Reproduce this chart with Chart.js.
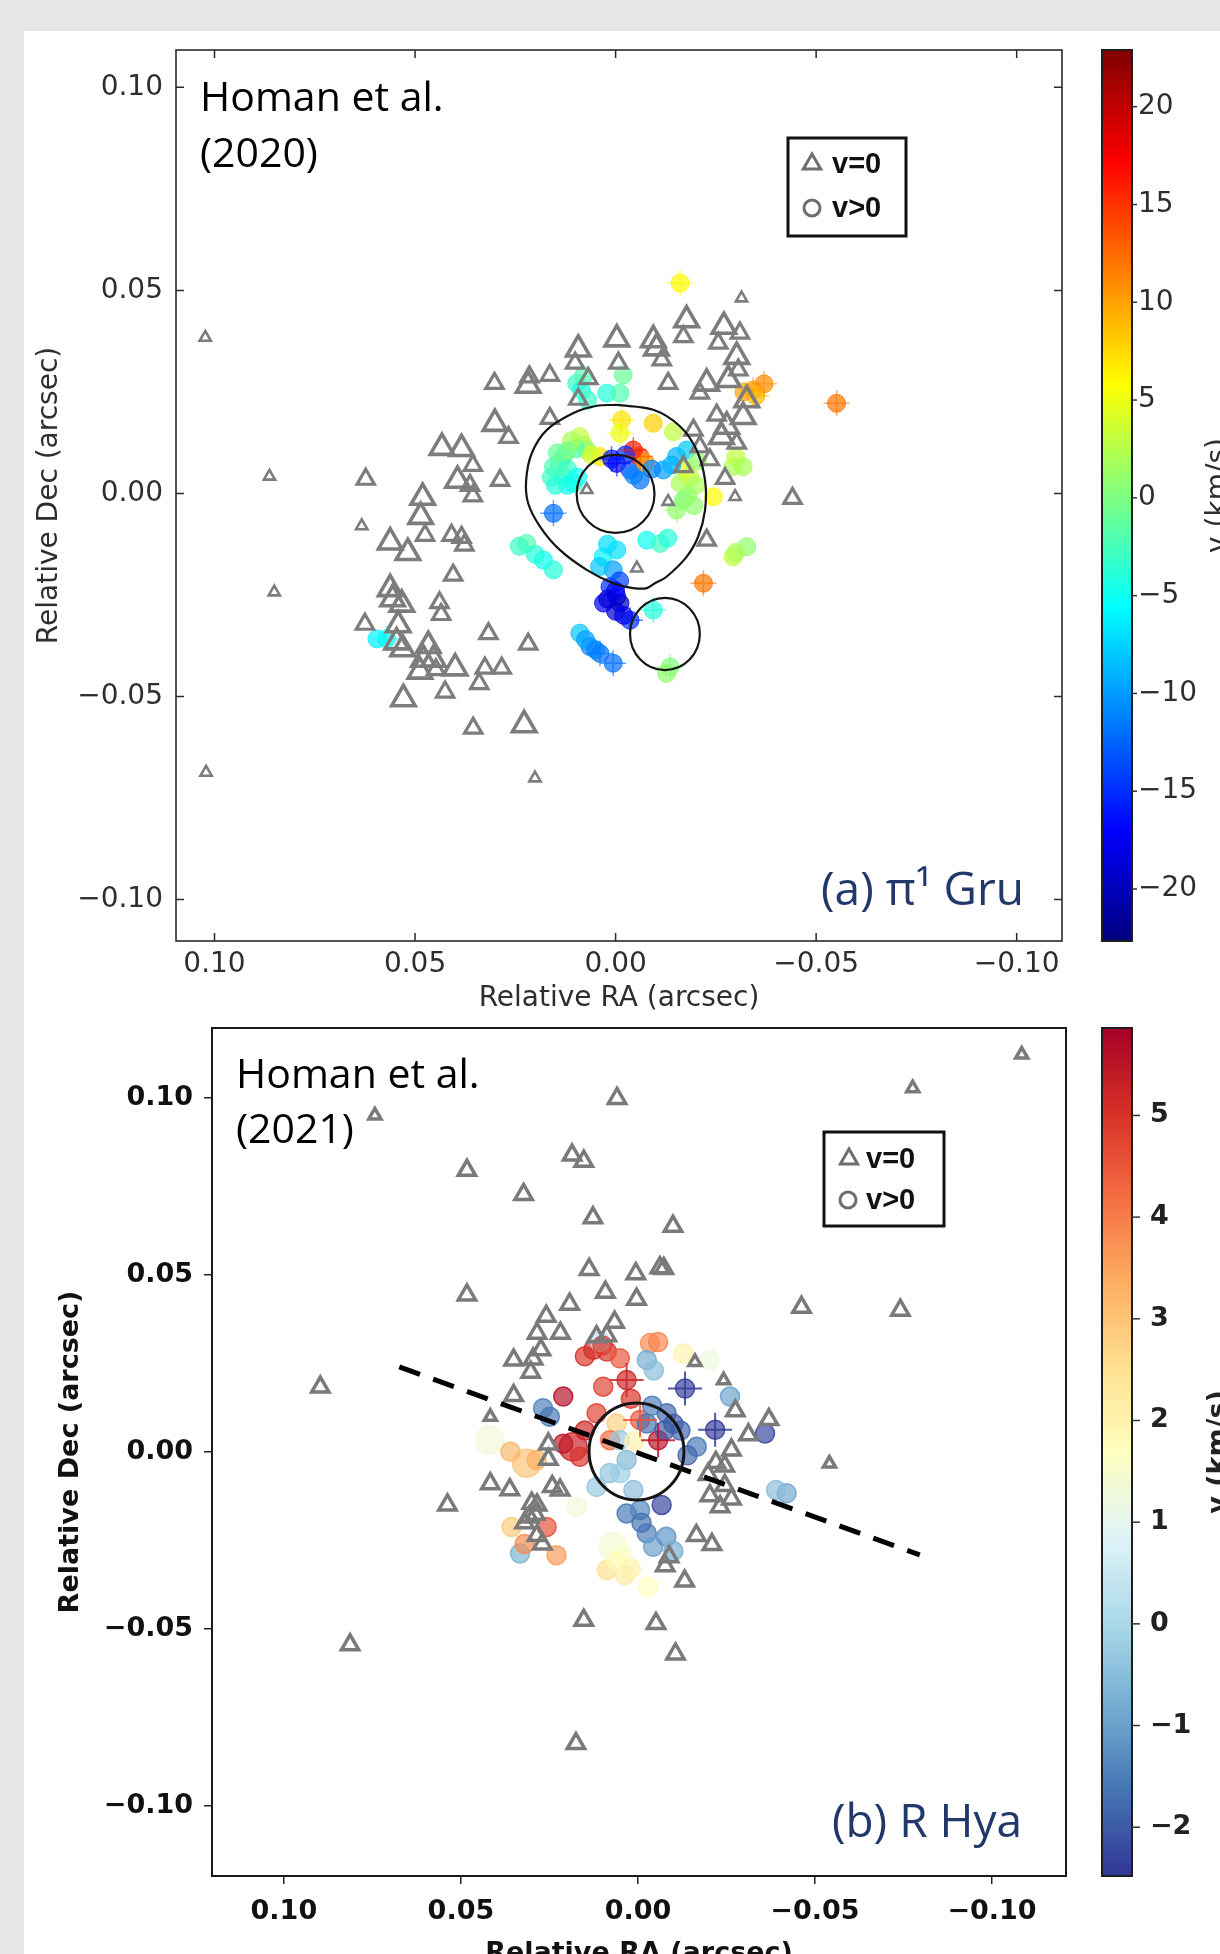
<!DOCTYPE html>
<html>
<head>
<meta charset="utf-8">
<script src="https://cdn.jsdelivr.net/npm/chart.js@4.4.0/dist/chart.umd.min.js"></script>
<style>
  html, body { margin: 0; padding: 0; width: 1220px; height: 1954px; overflow: hidden; background: #e6e6e6; }
  #panel { position: absolute; left: 24px; top: 31px; right: 0; bottom: 0; background: #fff; }
  canvas { position: absolute; left: 0; }
  #gruChart { top: 0; }
  #hyaChart { top: 1000px; }
</style>
</head>
<body>
<div id="panel"></div>
<canvas id="gruChart" width="1220" height="1016"></canvas>
<canvas id="hyaChart" width="1220" height="970"></canvas>
<script>
// axis ticks shared by both panels
const raTicks = [0.10, 0.05, 0.00, -0.05, -0.10];
const decTicks = [0.10, 0.05, 0.00, -0.05, -0.10];

// ---------- (a) pi1 Gru, Homan et al. (2020) ----------
// v=0 masers (triangles), size class 1 small .. 3 large
const gruTriRa = [0.1023, 0.0863, 0.0851, 0.1021, 0.0201, 0.0623, 0.0633, 0.0625, 0.0302, 0.0218,
  0.0215, 0.0164, 0.0093, 0.0101, -0.0003, -0.0007, 0.0068, 0.0093, 0.0164, 0.0301,
  0.0267, 0.0433, 0.0384, 0.0356, 0.0288, 0.0394, 0.0363, 0.0356, 0.0481, 0.0486,
  0.0475, 0.0562, 0.0518, 0.0409, 0.0384, 0.0377, 0.0405, 0.0562, 0.0556, 0.0533,
  0.0439, 0.0435, 0.0542, 0.0546, 0.0531, 0.0467, 0.0479, 0.0454, 0.0488, 0.0448,
  0.0400, 0.0326, 0.0284, 0.0340, 0.0317, 0.0218, 0.0529, 0.0425, 0.0355, 0.0228,
  -0.0094, -0.0102, -0.0115, -0.0177, -0.0169, -0.0270, -0.0256, -0.0310, -0.0314, -0.0302,
  -0.0306, -0.0281, -0.0227, -0.0210, -0.0131, -0.0252, -0.0318, -0.0277, -0.0264, -0.0302,
  -0.0194, -0.0210, -0.0235, -0.0273, -0.0298, -0.0441, -0.0227, -0.0131, -0.0053, -0.0327,
  -0.0169, 0.0072];
const gruTriDec = [0.0384, 0.0042, -0.0243, -0.0687, -0.0701, 0.0035, -0.0080, -0.0322, 0.0271, 0.0266,
  0.0287, 0.0291, 0.0355, 0.0321, 0.0380, 0.0321, 0.0283, 0.0232, 0.0185, 0.0172,
  0.0138, 0.0113, 0.0110, 0.0069, 0.0032, 0.0032, 0.0020, -0.0006, -0.0010, -0.0057,
  -0.0103, -0.0120, -0.0146, -0.0103, -0.0108, -0.0127, -0.0201, -0.0235, -0.0260, -0.0273,
  -0.0269, -0.0298, -0.0324, -0.0366, -0.0383, -0.0375, -0.0409, -0.0409, -0.0438, -0.0434,
  -0.0430, -0.0430, -0.0430, -0.0468, -0.0345, -0.0371, -0.0506, -0.0489, -0.0578, -0.0570,
  0.0378, 0.0358, 0.0329, 0.0427, 0.0386, 0.0411, 0.0370, 0.0395, 0.0481, 0.0337,
  0.0304, 0.0280, 0.0271, 0.0247, 0.0271, 0.0193, 0.0189, 0.0165, 0.0140, 0.0124,
  0.0156, 0.0115, 0.0083, 0.0037, -0.0008, -0.0012, -0.0115, -0.0020, -0.0184, 0.0230,
  0.0066, 0.0009];
const gruTriSize = [1, 1, 1, 1, 1, 2, 1, 2, 2, 3,
  2, 2, 3, 2, 3, 2, 2, 2, 2, 3,
  2, 3, 3, 2, 2, 3, 2, 2, 3, 3,
  2, 3, 3, 2, 2, 2, 2, 3, 3, 3,
  2, 2, 3, 3, 3, 3, 3, 3, 3, 2,
  3, 2, 2, 2, 2, 2, 3, 2, 2, 3,
  3, 3, 2, 3, 2, 3, 2, 2, 1, 3,
  2, 3, 3, 2, 2, 2, 3, 3, 3, 2,
  2, 2, 2, 2, 1, 2, 2, 1, 1, 3,
  2, 1];

// v>0 masers, velocity in km/s, err = drawn with error bars
const gruRa = [-0.0161, 0.0097, 0.0085, 0.0022, -0.0011, -0.0019, -0.0015, -0.0011, -0.0094, -0.0144,
  0.0089, 0.0080, 0.0130, 0.0140, 0.0130, 0.0105, 0.0155, 0.0120, 0.0072, 0.0039,
  -0.0003, 0.0010, -0.0036, -0.0061, -0.0045, -0.0061, -0.0044, -0.0075, -0.0119, -0.0152,
  -0.0177, -0.0161, -0.0169, -0.0185, -0.0152, -0.0244, -0.0293, -0.0300, 0.0155, 0.0222,
  0.0180, 0.0155, 0.0031, -0.0003, 0.0006, -0.0078, -0.0111, 0.0014, -0.0003, -0.0011,
  0.0000, -0.0036, -0.0094, 0.0089, 0.0064, 0.0039, 0.0006, -0.0136, -0.0293, -0.0327,
  -0.0219, -0.0343, -0.0370, -0.0551, 0.0571, 0.0595, -0.0318, -0.0127, 0.0120, 0.0100,
  -0.0195, -0.0175, 0.0030, 0.0110, 0.0120, 0.0145, 0.0160, 0.0150, 0.0095, 0.0060,
  -0.0025, -0.0090, -0.0140, -0.0205, -0.0200, -0.0180, -0.0130, 0.0020, 0.0040, -0.0010,
  0.0000, 0.0020, -0.0020, 0.0200, 0.0240, 0.0075, 0.0050, -0.0300, 0.0080, 0.0070,
  -0.0350, -0.0320];
const gruDec = [0.0518, 0.0271, 0.0255, 0.0247, 0.0247, 0.0292, 0.0181, 0.0148, 0.0173, 0.0152,
  0.0140, 0.0120, 0.0091, 0.0075, 0.0041, 0.0025, 0.0066, 0.0060, 0.0107, 0.0091,
  0.0074, 0.0085, 0.0058, 0.0033, 0.0045, 0.0091, 0.0107, 0.0075, 0.0058, 0.0091,
  0.0107, 0.0025, -0.0016, 0.0040, -0.0041, -0.0008, 0.0066, 0.0090, -0.0049, -0.0123,
  -0.0164, -0.0188, -0.0156, -0.0139, -0.0188, -0.0115, -0.0123, -0.0230, -0.0254, -0.0270,
  -0.0290, -0.0312, -0.0287, -0.0344, -0.0377, -0.0394, -0.0418, -0.0427, -0.0156, -0.0131,
  -0.0221, 0.0255, 0.0270, 0.0222, -0.0358, -0.0358, 0.0066, -0.0443, 0.0020, 0.0110,
  -0.0030, 0.0060, -0.0270, 0.0130, 0.0105, 0.0100, 0.0040, 0.0020, 0.0040, 0.0095,
  0.0095, 0.0060, 0.0070, 0.0080, 0.0020, -0.0005, -0.0110, -0.0125, -0.0180, -0.0215,
  -0.0240, -0.0260, -0.0300, -0.0150, -0.0130, -0.0360, -0.0385, -0.0145, 0.0290, 0.0230,
  0.0240, 0.0250];
const gruVel = [6, -3, -4, -4, -2, -1, 7, 5, 8, 3,
  3, 2, -1, -2, -3, -4, -2, -3, 1, 7,
  -18, -16, -14, -12, -11, 14, 16, 10, -10, -9,
  -8, 2, 0, 3, 1, 6, 2, 3, -12, -2,
  -5, -4, -6, -7, -10, -5, -3, -15, -18, -20,
  -19, -15, -4, -8, -11, -12, -12, 0, 3, 1,
  12, 10, 11, 12, -5, -6, 2, 1, -5, -2,
  1, 4, -17, 2, 0, -1, -3, -4, -5, 4,
  -15, -11, -9, 1, 2, 1, -4, -7, -8, -14,
  -17, -19, -18, -4, -3, -10, -11, 2, -2, -3,
  9, 10];
const gruErr = [1, 0, 0, 0, 0, 0, 1, 1, 0, 0,
  0, 0, 0, 0, 0, 0, 0, 0, 0, 0,
  1, 1, 0, 0, 0, 1, 1, 0, 0, 0,
  0, 0, 0, 0, 1, 0, 0, 0, 1, 0,
  0, 0, 0, 0, 0, 0, 0, 0, 0, 0,
  0, 1, 1, 0, 0, 1, 1, 1, 0, 0,
  1, 1, 1, 1, 1, 0, 0, 0, 0, 0,
  0, 0, 0, 0, 0, 0, 0, 0, 0, 0,
  0, 0, 0, 0, 0, 0, 0, 0, 0, 0,
  0, 0, 0, 0, 0, 0, 0, 0, 0, 0,
  1, 0];

// outer contour (the "Q" shaped ring)
const gruContourRa = [-0.0003, -0.0094, -0.0161, -0.0202, -0.0223, -0.0223, -0.0206, -0.0177, -0.0127, -0.0098,
  -0.0078, -0.0044, 0.0006, 0.0072, 0.0139, 0.0188, 0.0218, 0.0223, 0.0209, 0.0172, 0.0105, 0.0047, -0.0003];
const gruContourDec = [0.0218, 0.0206, 0.0165, 0.0107, 0.0033, -0.0041, -0.0106, -0.0156, -0.0205, -0.0221,
  -0.0233, -0.0233, -0.0221, -0.0188, -0.0139, -0.0082, -0.0024, 0.0033, 0.0099, 0.0156, 0.0198, 0.0216, 0.0218];
// rings: [ra, dec, radius ra, radius dec]
const gruRings = [[0.0000, -0.0001, 0.0097, 0.0096], [-0.0123, -0.0346, 0.0087, 0.0089]];
const gruVelTicks = [20, 15, 10, 5, 0, -5, -10, -15, -20];
const gruVelRange = [-22.66, 22.9];

// ---------- (b) R Hya, Homan et al. (2021) ----------
const hyaTriRa = [-0.1084, -0.0776, 0.0059, 0.0743, 0.0483, 0.0186, 0.0153, 0.0323, 0.0127, -0.0099,
  0.0138, 0.0006, -0.0062, -0.0073, 0.0483, 0.0092, 0.0004, 0.0193, 0.0259, -0.0462,
  -0.0741, 0.0066, 0.0285, 0.0219, 0.0274, 0.0351, 0.0296, 0.0303, 0.0897, 0.0417,
  0.0351, 0.0088, -0.0161, -0.0242, -0.0275, -0.0370, -0.0312, -0.0264, -0.0220, -0.0245,
  -0.0198, -0.0541, 0.0253, 0.0253, 0.0417, 0.0362, 0.0538, 0.0285, 0.0307, 0.0285,
  0.0242, -0.0203, -0.0264, -0.0245, -0.0165, -0.0209, -0.0088, -0.0077, -0.0132, 0.0153,
  -0.0051, -0.0106, 0.0813, 0.0175, 0.0117, -0.0232, 0.0300, 0.0290, 0.0220, 0.0320,
  0.0270];
const hyaTriDec = [0.1122, 0.1027, 0.0998, 0.0950, 0.0795, 0.0838, 0.0821, 0.0727, 0.0661, 0.0637,
  0.0515, 0.0503, 0.0520, 0.0518, 0.0443, 0.0451, 0.0431, 0.0417, 0.0383, 0.0408,
  0.0400, 0.0366, 0.0335, 0.0335, 0.0288, 0.0259, 0.0262, 0.0225, 0.0183, 0.0099,
  0.0159, 0.0328, 0.0254, 0.0202, 0.0116, 0.0091, 0.0048, 0.0005, -0.0030, -0.0040,
  -0.0064, -0.0033, -0.0021, 0.0022, -0.0090, -0.0107, -0.0150, -0.0150, -0.0184, -0.0236,
  -0.0098, -0.0124, -0.0133, -0.0095, -0.0236, -0.0262, -0.0296, -0.0322, -0.0365, -0.0476,
  -0.0485, -0.0571, -0.0545, -0.0824, 0.0325, -0.0155, -0.0145, -0.0176, -0.0108, -0.0200,
  -0.0260];
const hyaTriSize = [1, 1, 2, 1, 2, 2, 2, 2, 2, 2,
  2, 2, 2, 2, 2, 2, 2, 2, 2, 2,
  2, 2, 2, 2, 2, 2, 2, 2, 2, 1,
  2, 2, 1, 1, 2, 2, 2, 2, 2, 2,
  2, 1, 2, 2, 2, 2, 2, 2, 2, 2,
  2, 2, 2, 2, 2, 2, 2, 2, 2, 2,
  2, 2, 2, 2, 2, 2, 2, 2, 2, 2,
  2];

const hyaRa = [0.0126, 0.0088, 0.0051, -0.0034, -0.0057, -0.0025, -0.0128, -0.0203, 0.0107, 0.0032,
  0.0098, 0.0211, -0.0133, -0.0260, 0.0268, 0.0249, 0.0117, 0.0060, -0.0006, -0.0081,
  -0.0100, -0.0218, -0.0359, -0.0057, -0.0166, 0.0183, 0.0164, 0.0211, 0.0079, 0.0418,
  0.0314, 0.0286, 0.0032, 0.0117, 0.0173, 0.0357, 0.0258, 0.0333, 0.0230, 0.0032,
  -0.0006, -0.0067, -0.0025, -0.0043, 0.0070, 0.0045, 0.0088, 0.0037, -0.0029, -0.0420,
  -0.0390, 0.0013, 0.0051, -0.0025, -0.0075, 0.0080, 0.0150, 0.0100, -0.0045, 0.0020,
  -0.0040, -0.0120, -0.0140, 0.0010, 0.0150, 0.0050, -0.0010, -0.0080, -0.0100, 0.0060,
  0.0020, 0.0320, 0.0360];
const hyaDec = [0.0288, 0.0283, 0.0264, 0.0307, 0.0310, 0.0259, 0.0278, 0.0259, 0.0311, 0.0203,
  0.0184, 0.0156, 0.0179, 0.0156, 0.0123, 0.0099, 0.0109, 0.0080, 0.0090, 0.0109,
  0.0079, 0.0062, 0.0052, 0.0033, 0.0014, 0.0014, -0.0014, 0.0023, 0.0033, 0.0033,
  -0.0032, -0.0023, -0.0023, -0.0099, -0.0155, -0.0212, -0.0212, -0.0287, -0.0292, -0.0174,
  -0.0164, -0.0150, -0.0230, -0.0268, -0.0268, -0.0290, -0.0334, -0.0348, -0.0381, -0.0117,
  -0.0108, -0.0108, 0.0033, 0.0080, 0.0060, -0.0060, 0.0270, 0.0300, 0.0230, 0.0150,
  0.0130, 0.0060, -0.0010, 0.0030, 0.0060, -0.0060, -0.0200, -0.0240, -0.0280, -0.0310,
  -0.0330, -0.0260, 0.0000];
const hyaVel = [5.2, 5.0, 4.5, 3.8, 3.9, -0.8, 2.0, 1.2, 0.2, 5.2,
  4.8, 5.6, -2.4, -1.0, -1.5, -1.6, 4.8, 2.8, 4.5, -1.8,
  -2.0, -2.4, -2.3, 5.5, -1.6, 5.3, 5.0, 5.4, 4.2, 1.3,
  3.0, 3.3, -0.6, -0.3, 1.3, 2.9, 4.6, -0.7, 3.6, -1.6,
  -1.4, -2.3, -1.5, -1.0, 1.4, 1.6, 2.5, 2.2, 1.7, -0.9,
  -0.5, -0.5, -0.3, -1.7, -2.0, -0.4, 5.0, 4.8, -0.5, 5.0,
  -1.5, -1.9, -1.8, 2.0, 5.2, -0.2, -1.7, -1.2, -0.8, 1.8,
  2.0, 3.8, 3.2];
const hyaBig = [0, 0, 0, 0, 0, 0, 0, 0, 0, 0,
  0, 0, 0, 0, 0, 0, 0, 0, 0, 0,
  0, 0, 0, 0, 0, 1, 0, 0, 0, 1,
  1, 0, 0, 0, 0, 0, 0, 0, 0, 0,
  0, 0, 0, 0, 1, 0, 0, 0, 0, 0,
  0, 0, 0, 0, 0, 0, 0, 0, 0, 0,
  0, 0, 0, 0, 0, 0, 0, 0, 0, 0,
  0, 0, 0];
const hyaErr = [0, 0, 0, 0, 0, 0, 0, 0, 0, 1,
  0, 0, 1, 0, 0, 0, 0, 0, 1, 0,
  0, 1, 0, 1, 0, 0, 0, 0, 0, 0,
  0, 0, 0, 0, 0, 0, 0, 0, 0, 0,
  0, 0, 0, 0, 0, 0, 0, 0, 0, 0,
  0, 0, 0, 0, 0, 0, 0, 0, 0, 0,
  0, 0, 0, 0, 0, 0, 0, 0, 0, 0,
  0, 0, 0];

// dashed axis line
const hyaAxisRa = [0.0674, -0.0796];
const hyaAxisDec = [0.0240, -0.0291];
const hyaRings = [[0.0004, 0.0001, 0.0134, 0.0137]];
const hyaVelTicks = [5, 4, 3, 2, 1, 0, -1, -2];
const hyaVelRange = [-2.48, 5.86];

// ---------- helpers ----------
Chart.defaults.font.family = 'DejaVu Sans';

function clamp01(v) { return Math.max(0, Math.min(1, v)); }
function jet(t) {
  t = clamp01(t);
  return [1.5 - Math.abs(4 * t - 3), 1.5 - Math.abs(4 * t - 2), 1.5 - Math.abs(4 * t - 1)]
    .map(c => Math.round(clamp01(c) * 255));
}
const rdylbuStops = ['#313695', '#4575b4', '#74add1', '#abd9e9', '#e0f3f8', '#ffffbf',
  '#fee090', '#fdae61', '#f46d43', '#d73027', '#a50026'];
function hexRgb(h) { return [1, 3, 5].map(i => parseInt(h.slice(i, i + 2), 16)); }
function rdylbuR(t) {
  t = clamp01(t);
  const p = t * 10, i = Math.min(9, Math.floor(p)), f = p - i;
  const a = hexRgb(rdylbuStops[i]), b = hexRgb(rdylbuStops[i + 1]);
  return a.map((c, k) => Math.round(c + (b[k] - c) * f));
}
function rgba(c, a) { return 'rgba(' + c[0] + ',' + c[1] + ',' + c[2] + ',' + a + ')'; }
function velColour(cmap, range, alpha) {
  return v => rgba(cmap((v - range[0]) / (range[1] - range[0])), alpha);
}
function pts(ra, dec) { return ra.map((r, i) => ({ x: r, y: dec[i] })); }
function pick(arr, flags) { return arr.filter((_, i) => flags[i]); }
const fmtTick = v => (v < -1e-9 ? '\u2212' : '') + Math.abs(v).toFixed(2);
const fmtVel = v => (v < 0 ? '\u2212' : '') + Math.abs(v);

const decorPlugin = {
  id: 'decor',
  afterDatasetsDraw(chart, args, o) {
    const ctx = chart.ctx, a = chart.chartArea;
    const xs = chart.scales.x, ys = chart.scales.y;
    ctx.save();
    ctx.strokeStyle = '#151515';
    ctx.lineWidth = o.ringWidth;
    o.rings.forEach(r => {
      const cx = xs.getPixelForValue(r[0]), cy = ys.getPixelForValue(r[1]);
      const rx = Math.abs(xs.getPixelForValue(r[0] + r[2]) - cx);
      const ry = Math.abs(ys.getPixelForValue(r[1] + r[3]) - cy);
      ctx.beginPath();
      ctx.ellipse(cx, cy, rx, ry, 0, 0, Math.PI * 2);
      ctx.stroke();
    });
    ctx.strokeStyle = o.frameColor;
    ctx.lineWidth = o.frameWidth;
    ctx.strokeRect(a.left, a.top, a.right - a.left, a.bottom - a.top);
    if (o.innerTicks) {
      const n = o.innerTicks;
      ctx.lineWidth = 1.5;
      ctx.beginPath();
      xs.ticks.forEach(t => {
        const p = xs.getPixelForValue(t.value);
        ctx.moveTo(p, a.top); ctx.lineTo(p, a.top + n);
        ctx.moveTo(p, a.bottom); ctx.lineTo(p, a.bottom - n);
      });
      ys.ticks.forEach(t => {
        const p = ys.getPixelForValue(t.value);
        ctx.moveTo(a.left, p); ctx.lineTo(a.left + n, p);
        ctx.moveTo(a.right, p); ctx.lineTo(a.right - n, p);
      });
      ctx.stroke();
    }
    ctx.restore();
  },
  afterDraw(chart, args, o) {
    const ctx = chart.ctx, a = chart.chartArea;
    const cb = o.colorbar;
    const top = a.top, bot = a.bottom;
    ctx.save();
    // colour bar
    const grad = ctx.createLinearGradient(0, bot, 0, top);
    for (let i = 0; i <= 64; i++) grad.addColorStop(i / 64, rgba(cb.cmap(i / 64), 1));
    ctx.fillStyle = grad;
    ctx.fillRect(cb.left, top, cb.width, bot - top);
    ctx.strokeStyle = '#1e1e1e';
    ctx.lineWidth = 2;
    ctx.strokeRect(cb.left, top, cb.width, bot - top);
    const vy = v => bot - (v - cb.range[0]) / (cb.range[1] - cb.range[0]) * (bot - top);
    ctx.font = cb.font;
    ctx.fillStyle = cb.color;
    ctx.strokeStyle = '#333';
    ctx.lineWidth = 1.5;
    ctx.textAlign = 'left';
    ctx.textBaseline = 'middle';
    cb.ticks.forEach(v => {
      const y = vy(v);
      ctx.beginPath();
      ctx.moveTo(cb.left + cb.width, y);
      ctx.lineTo(cb.left + cb.width + cb.tickLen, y);
      ctx.stroke();
      ctx.fillText(fmtVel(v), cb.labelX, y);
    });
    ctx.save();
    ctx.translate(cb.titleX, (top + bot) / 2);
    ctx.rotate(-Math.PI / 2);
    ctx.textAlign = 'center';
    ctx.textBaseline = 'alphabetic';
    ctx.fillText('v (km/s)', 0, 0);
    ctx.restore();

    // marker legend
    const lg = o.legend;
    ctx.fillStyle = '#fff';
    ctx.fillRect(lg.x, lg.y, lg.w, lg.h);
    ctx.strokeStyle = '#111';
    ctx.lineWidth = 3;
    ctx.strokeRect(lg.x, lg.y, lg.w, lg.h);
    lg.rows.forEach(row => {
      ctx.strokeStyle = '#6e6e6e';
      ctx.lineWidth = 3;
      ctx.beginPath();
      if (row.shape === 'triangle') {
        const r = 10;
        ctx.moveTo(row.sx, row.y - r);
        ctx.lineTo(row.sx + r * 0.866, row.y + r * 0.5);
        ctx.lineTo(row.sx - r * 0.866, row.y + r * 0.5);
        ctx.closePath();
      } else {
        ctx.arc(row.sx, row.y, 8, 0, Math.PI * 2);
      }
      ctx.stroke();
      ctx.fillStyle = '#111';
      ctx.font = lg.font;
      ctx.textAlign = 'left';
      ctx.textBaseline = 'middle';
      ctx.fillText(row.text, lg.textX, row.y + 1);
    });

    // annotations
    o.notes.forEach(n => {
      ctx.font = n.font;
      ctx.fillStyle = n.color;
      ctx.textAlign = n.align;
      ctx.textBaseline = 'alphabetic';
      ctx.fillText(n.text, n.x, n.y);
    });
    ctx.restore();
  }
};

function makeScales(s) {
  return {
    x: {
      type: 'linear', reverse: true, min: s.xRange[0], max: s.xRange[1],
      afterBuildTicks: sc => { sc.ticks = raTicks.map(v => ({ value: v })); },
      afterFit: sc => { sc.height = s.xHeight; },
      grid: s.grid,
      border: { display: false },
      ticks: { callback: fmtTick, font: s.tickFont, color: s.textColor, padding: s.xPad, maxRotation: 0, autoSkip: false },
      title: { display: true, text: 'Relative RA (arcsec)', font: s.tickFont, color: s.textColor, padding: { top: 0, bottom: s.xTitlePad } }
    },
    y: {
      type: 'linear', min: s.yRange[0], max: s.yRange[1],
      afterBuildTicks: sc => { sc.ticks = decTicks.map(v => ({ value: v })); },
      afterFit: sc => { sc.width = s.yWidth; },
      grid: s.grid,
      border: { display: false },
      ticks: { callback: fmtTick, font: s.tickFont, color: s.textColor, padding: s.yPad, autoSkip: false },
      title: { display: true, text: 'Relative Dec (arcsec)', font: s.tickFont, color: s.textColor, padding: { top: s.yTitlePad, bottom: 0 } }
    }
  };
}

// ---------- panel (a) ----------
const jetCol = a => velColour(jet, gruVelRange, a);
const triRadiusGru = [0, 6.5, 10, 13.5];
const triWidthGru = [0, 2.6, 3.2, 3.6];

new Chart(document.getElementById('gruChart'), {
  type: 'scatter',
  data: {
    datasets: [
      {
        label: 'contour', data: pts(gruContourRa, gruContourDec), showLine: true, tension: 0.35,
        borderColor: '#151515', borderWidth: 2.2, pointRadius: 0, fill: false
      },
      {
        label: 'v=0', data: pts(gruTriRa, gruTriDec), pointStyle: 'triangle',
        pointRadius: gruTriSize.map(s => triRadiusGru[s]),
        pointBorderWidth: gruTriSize.map(s => triWidthGru[s]),
        pointBorderColor: '#7d7d7d', pointBackgroundColor: 'rgba(255,255,255,0)'
      },
      {
        label: 'errors', data: pts(pick(gruRa, gruErr), pick(gruDec, gruErr)), pointStyle: 'cross',
        pointRadius: 13, pointBorderWidth: 1.5,
        pointBorderColor: pick(gruVel, gruErr).map(jetCol(0.6))
      },
      {
        label: 'v>0', data: pts(gruRa, gruDec), pointRadius: 9,
        pointBackgroundColor: gruVel.map(jetCol(0.7)),
        pointBorderColor: gruVel.map(jetCol(0.8)), pointBorderWidth: 1
      }
    ]
  },
  options: {
    responsive: false, animation: false, events: [],
    layout: { padding: { left: 0, top: 50, right: 158, bottom: 0 } },
    scales: makeScales({
      xRange: [-0.1113, 0.1096], yRange: [-0.1102, 0.1092],
      xHeight: 75, yWidth: 176, xPad: 7, yPad: 13, xTitlePad: 0, yTitlePad: 33,
      grid: { display: false, drawTicks: false },
      tickFont: { family: 'DejaVu Sans', size: 28, weight: 'normal' }, textColor: '#2e2e2e'
    }),
    plugins: {
      legend: { display: false },
      tooltip: { enabled: false },
      decor: {
        rings: gruRings, ringWidth: 2.2, frameColor: '#2a2a2a', frameWidth: 1.6, innerTicks: 8,
        colorbar: {
          cmap: jet, range: gruVelRange, ticks: gruVelTicks, left: 1102, width: 30, tickLen: 5,
          labelX: 1138, titleX: 1226, font: '28px "DejaVu Sans"', color: '#2e2e2e'
        },
        legend: {
          x: 788, y: 138, w: 118, h: 98, textX: 832, font: 'bold 29px "Liberation Sans"',
          rows: [{ shape: 'triangle', sx: 812, y: 164, text: 'v=0' }, { shape: 'circle', sx: 812, y: 208, text: 'v>0' }]
        },
        notes: [
          { text: 'Homan et al.', x: 200, y: 111, font: '41px "Open Sans"', color: '#000', align: 'left' },
          { text: '(2020)', x: 200, y: 167, font: '41px "Open Sans"', color: '#000', align: 'left' },
          { text: '(a) \u03c0\u00b9 Gru', x: 1024, y: 905, font: '46px "Open Sans"', color: '#22386b', align: 'right' }
        ]
      }
    }
  },
  plugins: [decorPlugin]
});

// ---------- panel (b) ----------
const rdCol = a => velColour(rdylbuR, hyaVelRange, a);
const triRadiusHya = [0, 7, 10];

new Chart(document.getElementById('hyaChart'), {
  type: 'scatter',
  data: {
    datasets: [
      {
        label: 'axis', data: pts(hyaAxisRa, hyaAxisDec), showLine: true,
        borderColor: '#000', borderWidth: 5, borderDash: [22, 14], pointRadius: 0, fill: false
      },
      {
        label: 'v=0', data: pts(hyaTriRa, hyaTriDec), pointStyle: 'triangle',
        pointRadius: hyaTriSize.map(s => triRadiusHya[s]), pointBorderWidth: 3.5,
        pointBorderColor: '#7a7a7a', pointBackgroundColor: 'rgba(255,255,255,0)'
      },
      {
        label: 'errbars', data: pts(pick(hyaRa, hyaErr), pick(hyaDec, hyaErr)), pointStyle: 'cross',
        pointRadius: 17, pointBorderWidth: 2,
        pointBorderColor: pick(hyaVel, hyaErr).map(rdCol(0.85))
      },
      {
        label: 'v>0', data: pts(hyaRa, hyaDec),
        pointRadius: hyaBig.map(b => b ? 14 : 9.5),
        pointBackgroundColor: hyaVel.map(rdCol(0.68)),
        pointBorderColor: hyaVel.map(rdCol(0.85)), pointBorderWidth: 1.5
      }
    ]
  },
  options: {
    responsive: false, animation: false, events: [],
    layout: { padding: { left: 0, top: 28, right: 154, bottom: 0 } },
    scales: makeScales({
      xRange: [-0.1209, 0.1203], yRange: [-0.1198, 0.1197],
      xHeight: 94, yWidth: 212, xPad: 12, yPad: 11, xTitlePad: 0, yTitlePad: 55,
      grid: { display: true, drawOnChartArea: false, drawTicks: true, tickLength: 8, color: '#222', lineWidth: 1.5 },
      tickFont: { family: 'DejaVu Sans', size: 27, weight: 'bold' }, textColor: '#111'
    }),
    plugins: {
      legend: { display: false },
      tooltip: { enabled: false },
      decor: {
        rings: hyaRings, ringWidth: 3, frameColor: '#1a1a1a', frameWidth: 2, innerTicks: 0,
        colorbar: {
          cmap: rdylbuR, range: hyaVelRange, ticks: hyaVelTicks, left: 1102, width: 30, tickLen: 8,
          labelX: 1150, titleX: 1226, font: 'bold 27px "DejaVu Sans"', color: '#222'
        },
        legend: {
          x: 824, y: 132, w: 120, h: 94, textX: 866, font: 'bold 29px "Liberation Sans"',
          rows: [{ shape: 'triangle', sx: 849, y: 159, text: 'v=0' }, { shape: 'circle', sx: 848, y: 200, text: 'v>0' }]
        },
        notes: [
          { text: 'Homan et al.', x: 236, y: 88, font: '41px "Open Sans"', color: '#000', align: 'left' },
          { text: '(2021)', x: 236, y: 143, font: '41px "Open Sans"', color: '#000', align: 'left' },
          { text: '(b) R Hya', x: 1022, y: 837, font: '46px "Open Sans"', color: '#22386b', align: 'right' }
        ]
      }
    }
  },
  plugins: [decorPlugin]
});
</script>
</body>
</html>
